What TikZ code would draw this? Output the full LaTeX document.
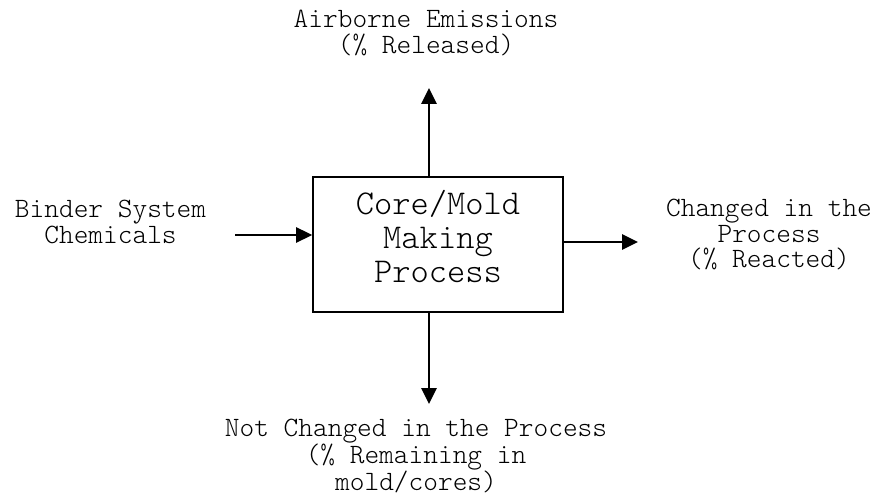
\documentclass[tikz,border=0pt]{standalone}
\usepackage{fontspec}
\setmonofont{Latin Modern Mono Light}
\usepackage{tikz}
\usetikzlibrary{arrows.meta}

\tikzset{
  lbl/.style={inner sep=0pt, align=center, font=\ttfamily\fontsize{21pt}{19pt}\selectfont},
  procbox/.style={draw, line width=1.3pt, minimum width=187.5pt, minimum height=101.25pt, inner sep=0pt,
    text depth=12pt, align=center, font=\ttfamily\fontsize{26.1pt}{25.5pt}\selectfont},
  flow/.style={line width=1.3pt, -{Triangle[length=12pt, width=11.5pt]}}
}

\begin{document}
\begin{tikzpicture}[x=0.75pt,y=0.75pt,yscale=-1,xscale=1]
\useasboundingbox (0,0) rectangle (880,498);

% process box
\node[procbox] (proc) at (438,244.5) {Core/Mold\\Making\\Process};

% Text Node
\node[lbl] (air) at (426,33) {Airborne Emissions\\(\% Released)};
% Text Node
\node[lbl] (inp) at (110.5,222) {Binder System\\Chemicals};
% Text Node
\node[lbl] (react) at (769,234.7) {Changed in the\\Process\\(\% Reacted)};
% Text Node
\node[lbl] (remain) at (416,456) {Not Changed in the Process\\(\% Remaining in\\mold/cores)};

% arrow ends
\coordinate (inA) at (235,235);
\coordinate (upA) at (429,88);
\coordinate (outA) at (638,242);
\coordinate (downA) at (429,404);

\draw[flow] (inA) -- (inA -| proc.west);
\draw[flow] (upA |- proc.north) -- (upA);
\draw[flow] (outA -| proc.east) -- (outA);
\draw[flow] (downA |- proc.south) -- (downA);

\end{tikzpicture}
\end{document}
